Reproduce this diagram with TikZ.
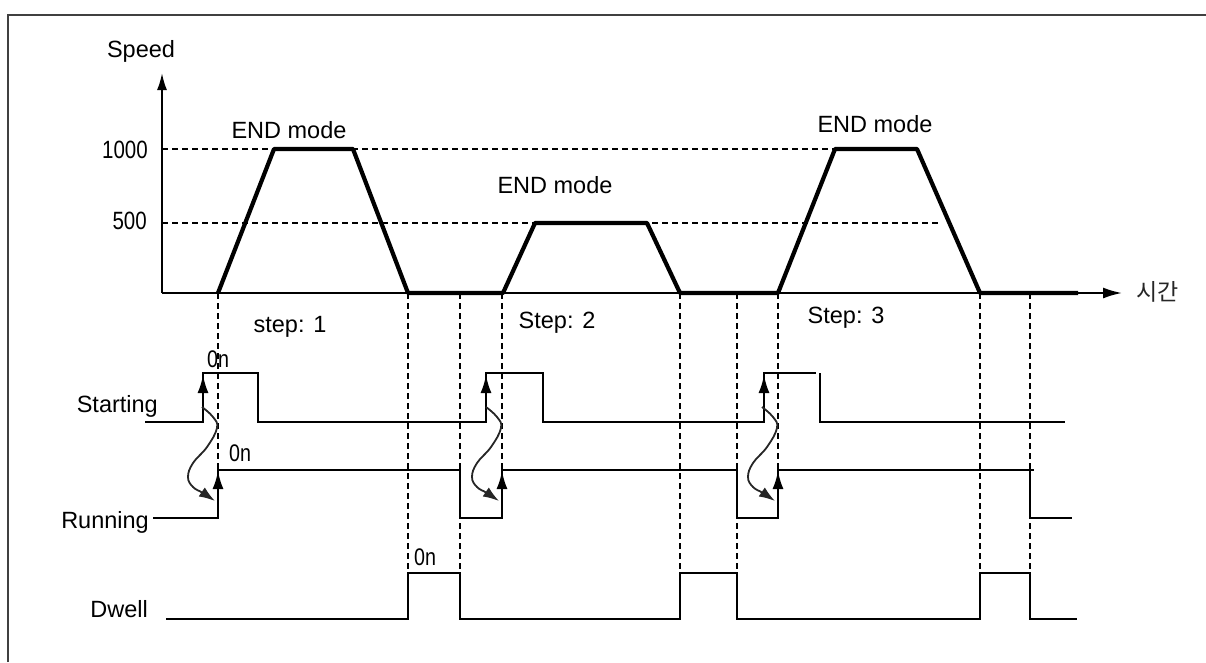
\documentclass[tikz,border=0pt]{standalone}
\usepackage{graphicx}
\usepackage{fontspec}
\setmainfont{Liberation Sans}
\newfontfamily\krfont{Noto Sans CJK KR}
\usetikzlibrary{arrows.meta}
\newcommand{\nar}[1]{\scalebox{0.82}[1]{#1}}
\tikzset{
  lbl/.style={font=\fontsize{23.5}{23.5}\selectfont, inner sep=0pt},
  numlbl/.style={font=\fontsize{25}{25}\selectfont, inner sep=0pt},
  sig/.style={line width=2pt},
  axisline/.style={line width=2pt},
  prof/.style={line width=4.2pt, line join=round},
  guide/.style={line width=1.4pt, dash pattern=on 6pt off 4pt},
  curv/.style={line width=1.8pt, black!85, -{Latex[length=16pt,width=11pt]}},
  uparrow/.style={sig, -{Latex[length=18pt,width=11pt]}},
}
\begin{document}
\begin{tikzpicture}[x=1pt,y=-1pt]
\useasboundingbox (0,0) rectangle (1206,662);
% frame
\draw[line width=2.5pt, black!75] (8,662) -- (8,15) -- (1206,15);

% horizontal guides
\draw[guide] (162,149) -- (835,149);
\draw[guide] (162,223) -- (940,223);

% vertical guides
\foreach \x in {218,502,778} \draw[guide] (\x,293) -- (\x,470);
\foreach \x in {408,460,680,737,980,1030} \draw[guide] (\x,293) -- (\x,573);

% axes
\draw[axisline, -{Latex[length=17pt,width=10pt]}] (162,293) -- (162,73);
\draw[axisline, -{Latex[length=19pt,width=11pt]}] (162,293) -- (1122,293);

% speed profile
\draw[prof] (218,293) -- (274,149) -- (353,149) -- (408,293) -- (503,293)
  -- (535,223) -- (647,223) -- (680,293) -- (778,293)
  -- (835,149) -- (917,149) -- (980,293) -- (1078,293);

% axis labels
\node[lbl, anchor=base] (speed) at (141,57) {Speed};
\node[numlbl, anchor=base east] (v1000) at (148,158) {\nar{1000}};
\node[numlbl, anchor=base east] (v500) at (147,229) {\nar{500}};
\node[font=\krfont\fontsize{23}{23}\selectfont, inner sep=0pt, anchor=west, black!85] (time) at (1136,292) {시간};

% mode / step labels
\node[lbl, anchor=base] (end1) at (289,138) {END mode};
\node[lbl, anchor=base] (end2) at (555,193) {END mode};
\node[lbl, anchor=base] (end3) at (875,132) {END mode};
\node[lbl, anchor=base] (st1) at (290,332) {step: 1};
\node[lbl, anchor=base] (st2) at (557,328) {Step: 2};
\node[lbl, anchor=base] (st3) at (846,323) {Step: 3};

% signal names
\node[lbl, anchor=base east] (sstart) at (158,412) {Starting};
\node[lbl, anchor=base east] (srun) at (149,528) {Running};
\node[lbl, anchor=base east] (sdwell) at (148,617) {Dwell};

% Starting signal
\draw[sig] (145,422) -- (203,422) -- (203,373) -- (258,373) -- (258,422)
  -- (486,422) -- (486,373) -- (543,373) -- (543,422)
  -- (764,422) -- (764,373) -- (816,373);
\draw[sig] (820,373) -- (820,422) -- (1065,422);

% Running signal
\draw[sig] (153,518) -- (218,518) -- (218,470) -- (460,470) -- (460,518)
  -- (502,518) -- (502,470) -- (737,470) -- (737,518)
  -- (778,518) -- (778,470) -- (1034,470);
\draw[sig] (1030,470) -- (1030,518) -- (1072,518);

% Dwell signal
\draw[sig] (166,619) -- (408,619) -- (408,573) -- (460,573) -- (460,619)
  -- (680,619) -- (680,573) -- (737,573) -- (737,619)
  -- (980,619) -- (980,573) -- (1030,573) -- (1030,619) -- (1077,619);

% rising edge arrows
\foreach \x in {203,486,764} \draw[uparrow] (\x,408) -- (\x,375);
\foreach \x in {218,502,778} \draw[uparrow] (\x,508) -- (\x,471);

% curved causality arrows
\foreach \x in {218,502,778}
  \draw[curv] plot[smooth, tension=0.7] coordinates {({\x-16},407) ({\x-5},417) ({\x-1},428) ({\x-11},447) ({\x-25},463) ({\x-30},477) ({\x-25},487) ({\x-15},493) ({\x-3},501)};

% On labels
\node[numlbl, font=\fontsize{24}{24}\selectfont, anchor=base west] (on1) at (207,367) {\nar{0n}};
\node[numlbl, font=\fontsize{24}{24}\selectfont, anchor=base west] (on2) at (229,461) {\nar{0n}};
\node[numlbl, font=\fontsize{24}{24}\selectfont, anchor=base west] (on3) at (414,565) {\nar{0n}};
\end{tikzpicture}
\end{document}
